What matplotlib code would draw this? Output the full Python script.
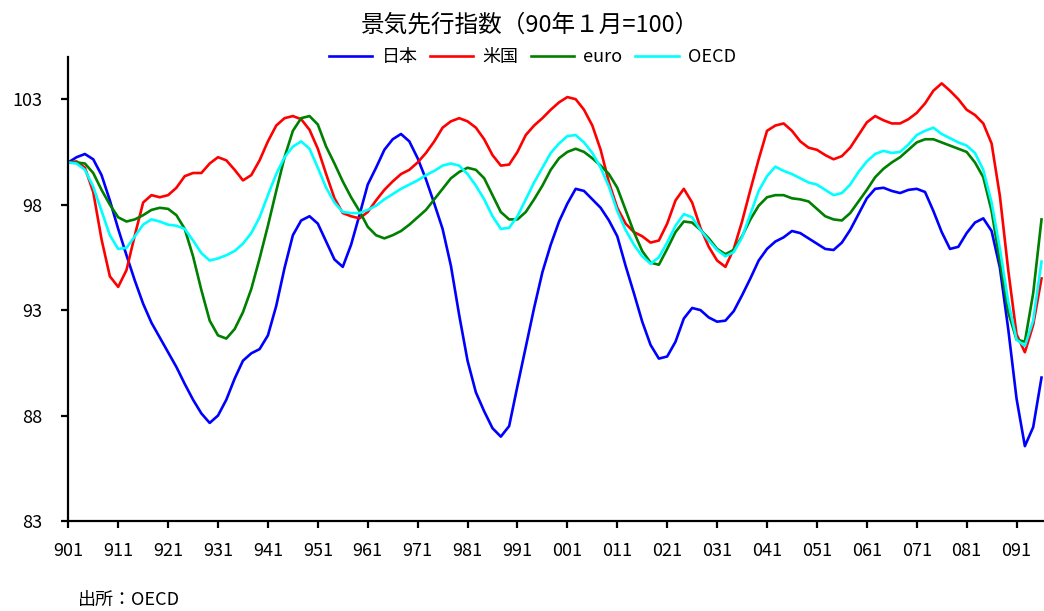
import numpy as np
import matplotlib
matplotlib.use("Agg")
import matplotlib.pyplot as plt

plt.rcParams['font.family'] = ['Noto Sans CJK JP', 'DejaVu Sans']

# 2か月ごとの値 (1990年1月から)
japan = [100.0, 100.25, 100.4, 100.15, 99.4, 98.2, 96.85, 95.6, 94.4, 93.3,
         92.4, 91.7, 91.0, 90.3, 89.5, 88.75, 88.1, 87.65, 88.0, 88.75,
         89.75, 90.6, 90.95, 91.15, 91.8, 93.2, 95.0, 96.55, 97.25, 97.45,
         97.1, 96.25, 95.4, 95.05, 96.1, 97.5, 98.95, 99.75, 100.6, 101.1,
         101.35, 101.0, 100.2, 99.2, 98.05, 96.85, 95.1, 92.75, 90.6, 89.1,
         88.2, 87.4, 87.0, 87.5, 89.4, 91.25, 93.1, 94.8, 96.1, 97.2,
         98.05, 98.75, 98.65, 98.25, 97.85, 97.25, 96.5, 95.1, 93.8, 92.45,
         91.35, 90.7, 90.8, 91.5, 92.6, 93.1, 93.0, 92.65, 92.45, 92.5,
         92.95, 93.7, 94.5, 95.35, 95.9, 96.25, 96.45, 96.75, 96.65, 96.4,
         96.15, 95.9, 95.85, 96.2, 96.8, 97.55, 98.3, 98.75, 98.8, 98.65,
         98.55, 98.7, 98.75, 98.6, 97.7, 96.7, 95.9, 96.0, 96.65, 97.15,
         97.35, 96.75, 95.0, 92.1, 88.8, 86.55, 87.45, 89.8]
usa = [100.0, 100.05, 99.75, 98.6, 96.35, 94.6, 94.1, 94.9, 96.55, 98.1,
       98.45, 98.35, 98.45, 98.8, 99.35, 99.5, 99.5, 99.95, 100.25, 100.1,
       99.65, 99.15, 99.4, 100.1, 101.0, 101.75, 102.1, 102.2, 102.05, 101.55,
       100.65, 99.45, 98.3, 97.6, 97.45, 97.35, 97.65, 98.2, 98.7, 99.1,
       99.45, 99.65, 100.0, 100.45, 101.0, 101.65, 101.95, 102.1, 101.95, 101.65,
       101.1, 100.35, 99.85, 99.9, 100.5, 101.3, 101.75, 102.1, 102.5, 102.85,
       103.1, 103.0, 102.5, 101.75, 100.6, 99.05, 97.85, 97.1, 96.7, 96.5,
       96.2, 96.3, 97.1, 98.2, 98.75, 98.1, 96.9, 96.0, 95.35, 95.05,
       95.9, 97.2, 98.7, 100.15, 101.5, 101.75, 101.85, 101.5, 101.0, 100.7,
       100.6, 100.35, 100.15, 100.3, 100.7, 101.3, 101.9, 102.2, 102.0, 101.85,
       101.85, 102.05, 102.35, 102.8, 103.4, 103.75, 103.4, 103.0, 102.5, 102.25,
       101.85, 100.9, 98.4, 94.9, 91.85, 91.0, 92.3, 94.5]
euro = [100.0, 100.0, 99.95, 99.5, 98.7, 98.0, 97.4, 97.2, 97.3, 97.5,
        97.75, 97.85, 97.8, 97.5, 96.85, 95.55, 93.95, 92.5, 91.8, 91.65,
        92.1, 92.9, 94.0, 95.45, 97.0, 98.65, 100.25, 101.5, 102.1, 102.2,
        101.8, 100.75, 99.95, 99.1, 98.35, 97.7, 96.95, 96.55, 96.4, 96.55,
        96.75, 97.05, 97.4, 97.75, 98.25, 98.75, 99.25, 99.55, 99.75, 99.65,
        99.25, 98.45, 97.65, 97.3, 97.3, 97.65, 98.25, 98.9, 99.65, 100.2,
        100.5, 100.65, 100.5, 100.2, 99.85, 99.45, 98.8, 97.75, 96.7, 95.8,
        95.25, 95.15, 95.9, 96.7, 97.2, 97.15, 96.8, 96.4, 95.9, 95.65,
        95.85, 96.5, 97.3, 97.95, 98.35, 98.45, 98.45, 98.3, 98.25, 98.15,
        97.8, 97.45, 97.3, 97.25, 97.6, 98.15, 98.7, 99.3, 99.7, 100.0,
        100.25, 100.6, 100.95, 101.1, 101.1, 100.95, 100.8, 100.65, 100.5, 100.0,
        99.3, 97.7, 95.3, 92.9, 91.6, 91.5, 93.8, 97.3]
oecd = [100.0, 99.95, 99.65, 98.85, 97.7, 96.55, 95.9, 95.95, 96.5, 97.05,
        97.3, 97.2, 97.05, 97.0, 96.85, 96.3, 95.7, 95.35, 95.45, 95.6,
        95.8, 96.15, 96.65, 97.4, 98.45, 99.45, 100.25, 100.75, 101.0, 100.65,
        99.75, 98.8, 98.1, 97.65, 97.6, 97.6, 97.75, 97.95, 98.25, 98.5,
        98.75, 98.95, 99.15, 99.4, 99.6, 99.85, 99.95, 99.85, 99.45, 98.9,
        98.25, 97.45, 96.85, 96.9, 97.45, 98.25, 99.05, 99.75, 100.45, 100.9,
        101.25, 101.3, 100.95, 100.45, 99.75, 98.85, 97.7, 96.8, 96.1, 95.55,
        95.2, 95.5, 96.2, 97.0, 97.55, 97.4, 96.8, 96.3, 95.85, 95.55,
        95.75, 96.45, 97.55, 98.65, 99.35, 99.8, 99.6, 99.45, 99.25, 99.05,
        98.95, 98.7, 98.45, 98.55, 98.95, 99.55, 100.05, 100.4, 100.55, 100.45,
        100.5, 100.85, 101.3, 101.5, 101.65, 101.35, 101.15, 100.95, 100.8, 100.45,
        99.65, 98.1, 95.9, 93.4, 91.6, 91.3, 92.5, 95.3]

names = ['日本', '米国', 'euro', 'OECD']
colors = ['#0000FF', '#FF0000', '#008000', '#00FFFF']

months = np.arange(len(japan)) * 2
tick_pos = np.arange(0, 229, 12)
tick_labels = ['%02d1' % ((90 + i) % 100) for i in range(len(tick_pos))]

fig = plt.figure(figsize=(10.44, 6.11), dpi=100)
ax = fig.add_axes([0.0654, 0.1473, 0.9346, 0.7594])

for vals, name, c in zip([japan, usa, euro, oecd], names, colors):
    ax.plot(months, vals, color=c, lw=1.9, label=name)

ax.set_xlim(0, 234.6)
ax.set_ylim(83, 105)
ax.set_yticks([83, 88, 93, 98, 103])
ax.set_xticks(tick_pos)
ax.set_xticklabels(tick_labels)

for s in ['top', 'right']:
    ax.spines[s].set_visible(False)
for s in ['left', 'bottom']:
    ax.spines[s].set_linewidth(1.6)
ax.tick_params(axis='both', direction='out', length=5, width=1.6, labelsize=13)
ax.tick_params(axis='y', pad=14)
ax.tick_params(axis='x', pad=10)

fig.text(0.508, 0.959, '景気先行指数（90年１月=100）', ha='center', va='center', fontsize=17)
fig.legend(loc='center', bbox_to_anchor=(0.51, 0.907), ncol=4, frameon=False,
           fontsize=13, handlelength=2.4, handletextpad=0.5, columnspacing=0.7)
fig.text(0.075, 0.018, '出所：OECD', ha='left', va='center', fontsize=13)

fig.savefig('out.png', dpi=100)
